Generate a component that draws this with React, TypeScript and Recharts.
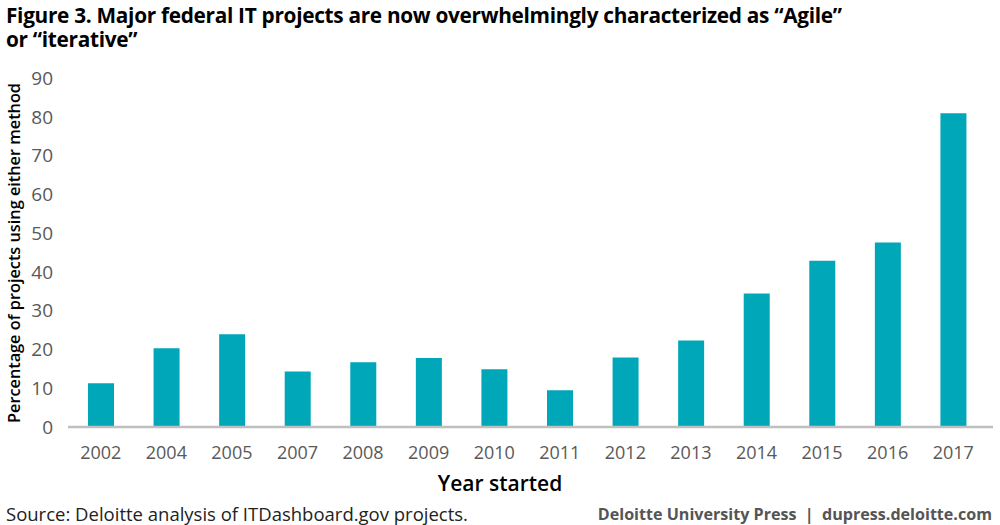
import { BarChart, Bar, XAxis, YAxis } from 'recharts';

// Share of major federal IT projects characterized as Agile or iterative
const years = ['2002', '2004', '2005', '2007', '2008', '2009', '2010', '2011', '2012', '2013', '2014', '2015', '2016', '2017'];
const percentages = [11.3, 20.3, 23.9, 14.3, 16.7, 17.8, 14.9, 9.5, 17.9, 22.3, 34.4, 42.9, 47.6, 80.9];
const yTicks = [0, 10, 20, 30, 40, 50, 60, 70, 80, 90];

const data = years.map((year, i) => ({ year, value: percentages[i] }));

const FONT = '"Open Sans", "Noto Sans", sans-serif';
const BAR_COLOR = '#00A7B9';
const AXIS_COLOR = '#BFBFBF';
const TICK_COLOR = '#595959';

const titleStyle = {
  position: 'absolute' as const,
  left: 6,
  fontSize: 20.8,
  fontWeight: 700,
  lineHeight: '22px',
  color: '#000',
  letterSpacing: -0.3,
  whiteSpace: 'nowrap' as const,
};

export default function App() {
  return (
    <div style={{ position: 'relative', width: 1000, height: 525, background: '#fff', fontFamily: FONT }}>
      <style>{'body { margin: 0; }'}</style>
      <div style={{ ...titleStyle, top: 4 }}>
        Figure 3. Major federal IT projects are now overwhelmingly characterized as “Agile”
      </div>
      <div style={{ ...titleStyle, top: 28 }}>or “iterative”</div>

      <BarChart
        width={1000}
        height={525}
        data={data}
        margin={{ top: 78, right: 7, left: 0, bottom: 0 }}
        style={{ position: 'absolute', left: 0, top: 0 }}
      >
        <XAxis
          dataKey="year"
          height={98}
          padding={{ left: 0, right: 7 }}
          axisLine={{ stroke: AXIS_COLOR, strokeWidth: 2.5 }}
          tickLine={false}
          tickSize={0}
          tickMargin={19}
          interval={0}
          tick={{ fill: TICK_COLOR, fontSize: 18, fontFamily: FONT }}
        />
        <YAxis
          width={68}
          domain={[0, 90]}
          ticks={yTicks}
          axisLine={false}
          tickLine={false}
          tickSize={0}
          tickMargin={15}
          tick={{ fill: TICK_COLOR, fontSize: 19, fontFamily: FONT }}
        />
        <Bar dataKey="value" fill={BAR_COLOR} barSize={26} isAnimationActive={false} />
      </BarChart>

      <div
        style={{
          position: 'absolute',
          left: 14,
          top: 253,
          transform: 'translate(-50%, -50%) rotate(-90deg)',
          whiteSpace: 'nowrap',
          fontSize: 16.3,
          fontWeight: 600,
          color: '#000',
        }}
      >
        Percentage of projects using either method
      </div>

      <div
        style={{
          position: 'absolute',
          left: 500,
          top: 483,
          transform: 'translate(-50%, -50%)',
          whiteSpace: 'nowrap',
          fontSize: 21,
          fontWeight: 600,
          color: '#000',
        }}
      >
        Year started
      </div>

      <div style={{ position: 'absolute', left: 6, top: 501, fontSize: 18.5, color: '#222', whiteSpace: 'nowrap' }}>
        Source: Deloitte analysis of ITDashboard.gov projects.
      </div>

      <div
        style={{
          position: 'absolute',
          right: 8,
          top: 503,
          fontSize: 16.1,
          fontWeight: 700,
          color: '#555',
          whiteSpace: 'nowrap',
        }}
      >
        Deloitte University Press&nbsp;&nbsp;|&nbsp;&nbsp;dupress.deloitte.com
      </div>
    </div>
  );
}
